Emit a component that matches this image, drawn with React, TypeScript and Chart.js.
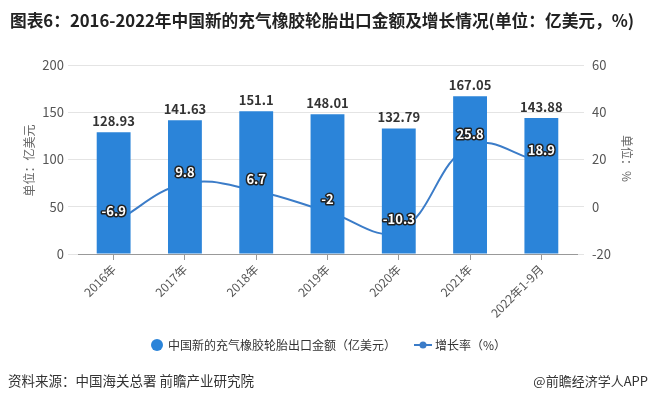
import React, { useEffect, useRef } from "react";
import { Chart, registerables } from "chart.js";

Chart.register(...registerables);

const categories = ["2016年", "2017年", "2018年", "2019年", "2020年", "2021年", "2022年1-9月"];
const exportValues = [128.93, 141.63, 151.1, 148.01, 132.79, 167.05, 143.88];
const growthRates = [-6.9, 9.8, 6.7, -2, -10.3, 25.8, 18.9];
const leftAxisRange = [0, 200, 50];
const rightAxisRange = [-20, 60, 20];

const titleText = "图表6：2016-2022年中国新的充气橡胶轮胎出口金额及增长情况(单位：亿美元，%)";
const sourceText = "资料来源：中国海关总署 前瞻产业研究院";
const brandText = "@前瞻经济学人APP";
const barLegend = "中国新的充气橡胶轮胎出口金额（亿美元）";
const lineLegend = "增长率（%）";
const leftTitle = "单位：亿美元";
const rightTitle = "单位：%";

const FONT = '"Microsoft YaHei","Noto Sans CJK SC","Noto Sans",sans-serif';
const BAR_COLOR = "#2b84d9";
const LINE_COLOR = "#3b7cc8";

const decorPlugin = {
  id: "decor",
  afterDraw(chart: any) {
    const ctx = chart.ctx;
    ctx.save();
    // title
    ctx.font = "bold 16.7px " + FONT;
    ctx.fillStyle = "#222";
    ctx.textBaseline = "middle";
    ctx.textAlign = "left";
    ctx.fillText(titleText, 10, 21);
    // footer
    ctx.font = "13.5px " + FONT;
    ctx.fillStyle = "#333";
    ctx.fillText(sourceText, 8, 381);
    ctx.font = "13px " + FONT;
    ctx.textAlign = "right";
    ctx.fillText(brandText, 648, 381);
    // axis titles
    const area = chart.chartArea;
    const cy = (area.top + area.bottom) / 2;
    ctx.font = "12px " + FONT;
    ctx.fillStyle = "#666";
    ctx.textAlign = "center";
    ctx.save();
    ctx.translate(29, cy + 1);
    ctx.rotate(-Math.PI / 2);
    ctx.fillText(leftTitle, 0, 0);
    ctx.restore();
    ctx.save();
    ctx.translate(627, cy - 1);
    ctx.rotate(Math.PI / 2);
    ctx.fillText(rightTitle, 0, 0);
    ctx.restore();
    // legend
    const ly = 345;
    ctx.fillStyle = BAR_COLOR;
    ctx.beginPath();
    ctx.arc(157, ly, 6, 0, Math.PI * 2);
    ctx.fill();
    ctx.font = "12px " + FONT;
    ctx.fillStyle = "#333";
    ctx.textAlign = "left";
    ctx.fillText(barLegend, 168, ly);
    ctx.strokeStyle = LINE_COLOR;
    ctx.lineWidth = 2;
    ctx.beginPath();
    ctx.moveTo(414, ly);
    ctx.lineTo(432, ly);
    ctx.stroke();
    ctx.fillStyle = LINE_COLOR;
    ctx.beginPath();
    ctx.arc(423, ly, 3.5, 0, Math.PI * 2);
    ctx.fill();
    ctx.fillStyle = "#333";
    ctx.fillText(lineLegend, 435, ly);
    ctx.restore();
  },
  afterDatasetsDraw(chart: any) {
    const ctx = chart.ctx;
    ctx.save();
    ctx.textAlign = "center";
    ctx.textBaseline = "middle";
    ctx.font = "bold 13px " + FONT;
    const barMeta = chart.getDatasetMeta(0);
    barMeta.data.forEach((el: any, i: number) => {
      ctx.fillStyle = "#333";
      ctx.fillText(String(exportValues[i]), el.x, el.y - 11);
    });
    const lineMeta = chart.getDatasetMeta(1);
    ctx.lineJoin = "round";
    lineMeta.data.forEach((el: any, i: number) => {
      const t = String(growthRates[i]);
      ctx.strokeStyle = "#222";
      ctx.lineWidth = 3;
      ctx.strokeText(t, el.x, el.y - 12);
      ctx.fillStyle = "#fff";
      ctx.fillText(t, el.x, el.y - 12);
    });
    ctx.restore();
  },
};

export default function App() {
  const ref = useRef<HTMLCanvasElement | null>(null);
  useEffect(() => {
    if (!ref.current) return;
    const chart = new Chart(ref.current, {
      type: "bar",
      data: {
        labels: categories,
        datasets: [
          {
            type: "bar",
            label: barLegend,
            data: exportValues,
            backgroundColor: BAR_COLOR,
            yAxisID: "y",
            categoryPercentage: 1,
            barPercentage: 0.475,
            order: 0,
          },
          {
            type: "line",
            label: lineLegend,
            data: growthRates,
            borderColor: LINE_COLOR,
            backgroundColor: LINE_COLOR,
            borderWidth: 2,
            pointRadius: 0,
            tension: 0.4,
            yAxisID: "y1",
            order: 1,
          },
        ],
      } as any,
      options: {
        responsive: false,
        animation: false,
        devicePixelRatio: 1,
        layout: { padding: { top: 65, left: 0, right: 0, bottom: 0 } },
        plugins: {
          legend: { display: false },
          title: { display: false },
          tooltip: { enabled: false },
        },
        scales: {
          x: {
            type: "category",
            offset: true,
            grid: {
              display: true,
              drawOnChartArea: false,
              drawTicks: true,
              tickLength: 6,
              offset: false,
              color: "#999",
            },
            border: { display: true, color: "#999" },
            ticks: {
              minRotation: 45,
              maxRotation: 45,
              autoSkip: false,
              padding: 2,
              color: "#555",
              font: { size: 12, family: FONT },
            },
            afterFit: (s: any) => {
              s.height = 146;
            },
          },
          y: {
            position: "left",
            min: leftAxisRange[0],
            max: leftAxisRange[1],
            ticks: {
              stepSize: leftAxisRange[2],
              padding: 4,
              color: "#555",
              font: { size: 13, family: FONT },
            },
            grid: { color: "#e4e4e4", tickLength: 10 },
            border: { display: false },
            afterFit: (s: any) => {
              s.width = 78;
            },
          },
          y1: {
            position: "right",
            min: rightAxisRange[0],
            max: rightAxisRange[1],
            ticks: {
              stepSize: rightAxisRange[2],
              padding: 8,
              color: "#555",
              font: { size: 13, family: FONT },
            },
            grid: { drawOnChartArea: false, color: "#e4e4e4", tickLength: 7 },
            border: { display: false },
            afterFit: (s: any) => {
              s.width = 77;
            },
          },
        },
      } as any,
      plugins: [decorPlugin],
    });
    return () => chart.destroy();
  }, []);
  return (
    <div style={{ position: "absolute", left: 0, top: 0, width: 654, height: 400, background: "#fff" }}>
      <canvas ref={ref} width={654} height={400} style={{ width: 654, height: 400, display: "block" }} />
    </div>
  );
}
